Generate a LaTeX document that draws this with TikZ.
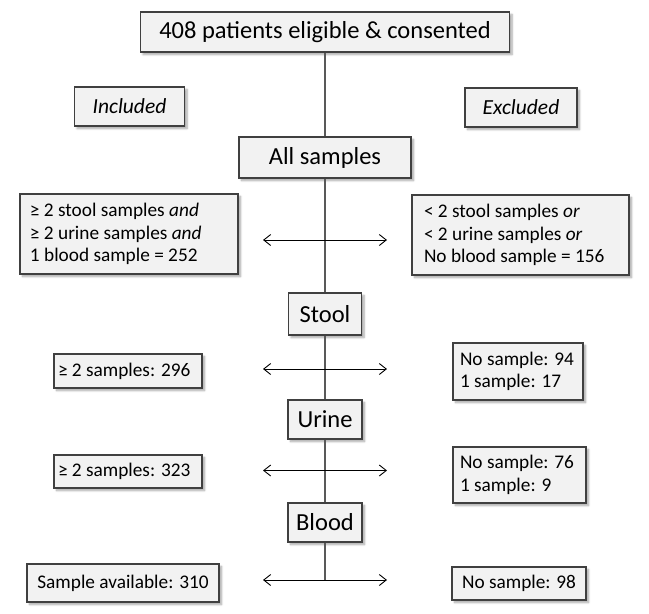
\documentclass[tikz,border=0pt]{standalone}
\usepackage{fontspec}
\setmainfont{Carlito}
\usetikzlibrary{arrows.meta,shadows.blur}

\begin{document}
\begin{tikzpicture}[x=1pt,y=-1pt,
  box/.style={draw=black!75,line width=1.1pt,fill=black!5,inner sep=0pt,
    blur shadow={shadow xshift=2.5pt,shadow yshift=-2.5pt,shadow blur radius=2pt,shadow blur steps=6,shadow opacity=35}},
  big/.style={box,font=\fontsize{24.5}{28}\selectfont},
  small/.style={box,font=\fontsize{19.3}{22.5}\selectfont,align=flush left},
  tag/.style={box,font=\fontsize{21.5}{25}\selectfont\itshape},
  stem/.style={draw=black!65,line width=1.3pt},
  split/.style={{Straight Barb[length=7pt,width=11pt]}-{Straight Barb[length=7pt,width=11pt]},line width=0.9pt}]
  \useasboundingbox (0,0) rectangle (649,614);

  %main column
  \node[big,minimum width=369,minimum height=40] (top) at (325,32) {408 patients eligible \& consented};
  \node[tag,minimum width=110,minimum height=39] (incl) at (129.5,106.5) {Included};
  \node[tag,minimum width=112,minimum height=39] (excl) at (521,107.5) {Excluded};
  \node[big,minimum width=172,minimum height=41] (all) at (325,157.5) {All samples};
  \node[big,minimum width=73,minimum height=42] (stool) at (325,314) {Stool};
  \node[big,minimum width=74,minimum height=39] (urine) at (325,419.5) {Urine};
  \node[big,minimum width=74,minimum height=39] (blood) at (325,522.5) {Blood};

  %included side
  \node[small,inner xsep=10pt,text width=198pt,minimum height=80] (inall) at (129,234)
    {≥ 2 stool samples \textit{and}\\ ≥ 2 urine samples \textit{and}\\ 1 blood sample = 252};
  \node[small,inner xsep=4pt,text width=140pt,minimum height=34] (instool) at (128,371) {≥ 2 samples: 296};
  \node[small,inner xsep=4pt,text width=140pt,minimum height=33] (inurine) at (128,471.5) {≥ 2 samples: 323};
  \node[small,minimum width=192,minimum height=38] (inblood) at (123,583) {Sample available: 310};

  %excluded side
  \node[small,inner xsep=12pt,text width=193pt,minimum height=80] (exall) at (520.5,235)
    {< 2 stool samples \textit{or}\\ < 2 urine samples \textit{or}\\ No blood sample = 156};
  \node[small,inner xsep=7pt,text width=116pt,minimum height=57] (exstool) at (518,371.5) {No sample: 94\\ 1 sample: 17};
  \node[small,inner xsep=7pt,text width=119pt,minimum height=56] (exurine) at (519.5,475) {No sample: 76\\ 1 sample: 9};
  \node[small,minimum width=134,minimum height=33] (exblood) at (519,583.5) {No sample: 98};

  \coordinate (end) at (325,580);
  \draw[stem] (top.south) -- (all.north);
  \draw[stem] (all.south) -- (stool.north);
  \draw[stem] (stool.south) -- (urine.north);
  \draw[stem] (urine.south) -- (blood.north);
  \draw[stem] (blood.south) -- (end);

  \foreach \name/\y in {all/240,stool/369,urine/470.5,blood/580}{
    \coordinate (l\name) at (263,\y);
    \coordinate (r\name) at (387,\y);
    \draw[split] (l\name) -- (r\name);
  }
\end{tikzpicture}
\end{document}
